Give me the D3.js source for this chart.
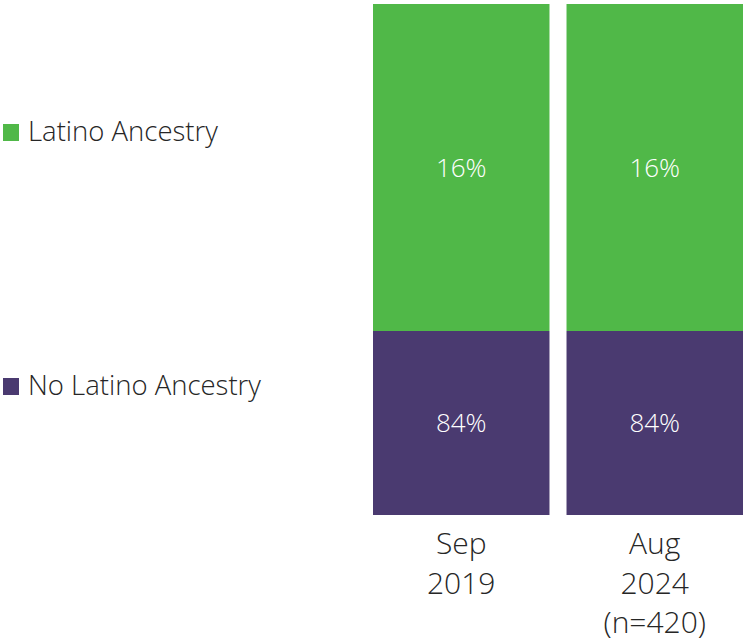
<!DOCTYPE html>
<html>
<head>
<meta charset="utf-8">
<script src="https://cdn.jsdelivr.net/npm/d3@7"></script>
<style>
  html, body { margin: 0; padding: 0; background: #ffffff; }
  svg { display: block; }
  text { font-family: "Open Sans", "Lato", sans-serif; font-weight: 300; }
</style>
</head>
<body>
<svg id="chart" width="743" height="641"></svg>
<script>
// ---- data ----
const categories = ["Sep 2019", "Aug 2024 (n=420)"];
const categoryLines = [["Sep", "2019"], ["Aug", "2024", "(n=420)"]];
const seriesNames = ["No Latino Ancestry", "Latino Ancestry"];
const noLatino = [84, 84];
const latino = [16, 16];
const seriesColors = ["#4a3a70", "#50b848"];

// ---- layout ----
const W = 743, H = 641;
const svg = d3.select("#chart");

const x = d3.scaleBand().domain(categories).range([373, 743]).paddingInner(0.088).paddingOuter(0);
// piecewise scale matching the reference's segment heights
const y = d3.scaleLinear().domain([0, 84, 100]).range([515, 331, 4]);

const table = categories.map((c, i) => ({ cat: c, "No Latino Ancestry": noLatino[i], "Latino Ancestry": latino[i] }));
const stack = d3.stack().keys(seriesNames);
const stacked = stack(table);

const groups = svg.append("g").selectAll("g")
  .data(stacked).join("g")
  .attr("fill", (d, i) => seriesColors[i]);

groups.selectAll("rect")
  .data(d => d.map(v => ({ v, key: d.key })))
  .join("rect")
  .attr("x", d => x(d.v.data.cat))
  .attr("width", x.bandwidth())
  .attr("y", d => y(d.v[1]))
  .attr("height", d => y(d.v[0]) - y(d.v[1]));

// value labels
groups.selectAll("text")
  .data(d => d.map(v => ({ v, key: d.key })))
  .join("text")
  .attr("x", d => x(d.v.data.cat) + x.bandwidth() / 2)
  .attr("y", d => (y(d.v[0]) + y(d.v[1])) / 2)
  .attr("text-anchor", "middle")
  .attr("dy", "0.36em")
  .attr("fill", "#ffffff")
  .style("font-size", "26px")
  .text(d => (d.v[1] - d.v[0]) + "%");

// category labels
const catG = svg.append("g");
categories.forEach((c, i) => {
  const t = catG.append("text")
    .attr("x", x(c) + x.bandwidth() / 2)
    .attr("y", 554)
    .attr("text-anchor", "middle")
    .attr("fill", "#262626")
    .style("font-size", "30px");
  categoryLines[i].forEach((line, j) => {
    t.append("tspan")
      .attr("x", x(c) + x.bandwidth() / 2)
      .attr("dy", j === 0 ? 0 : 39.5)
      .text(line);
  });
});

// legend
const legendY = { "Latino Ancestry": 132.5, "No Latino Ancestry": 386.5 };
const leg = svg.append("g");
seriesNames.forEach((s, i) => {
  const cy = legendY[s];
  leg.append("rect")
    .attr("x", 3).attr("y", cy - 8.5)
    .attr("width", 16).attr("height", 17)
    .attr("fill", seriesColors[i]);
  leg.append("text")
    .attr("x", 28).attr("y", cy + 8)
    .attr("fill", "#262626")
    .style("font-size", "27.5px")
    .text(s);
});
</script>
</body>
</html>
